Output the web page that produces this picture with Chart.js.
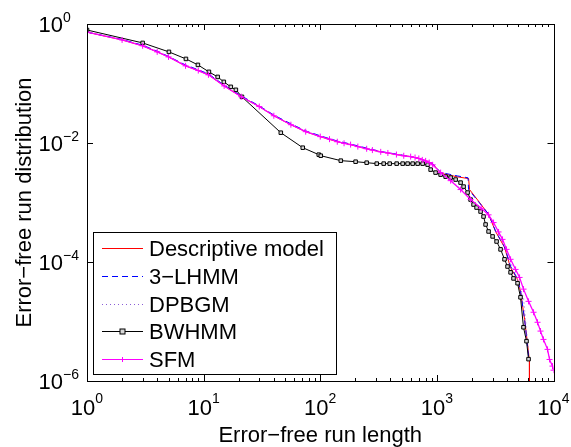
<!DOCTYPE html>
<html lang="en">
<head>
<meta charset="UTF-8">
<title>Error-free run distribution</title>
<script src="https://cdn.jsdelivr.net/npm/chart.js"></script>
<style>
  body { margin: 0; background: #fff; }
</style>
</head>
<body>
<canvas id="runChart" width="571" height="447"></canvas>
<script>
// series (run length -> distribution)
const seriesNames = ['Descriptive model', '3\u2212LHMM', 'DPBGM', 'BWHMM', 'SFM'];

const descX = [1, 2, 3, 4, 5, 7, 9, 11, 15, 21, 30, 40, 56, 75, 100, 140, 182, 250, 330, 450, 596, 700, 801, 920, 1077, 1500, 1871, 1906, 2323, 2775, 3187, 3803, 4285, 4920, 5214, 5650, 5990, 6220, 6220];
const descY = [0.73, 0.54, 0.43, 0.34, 0.28, 0.198, 0.165, 0.14, 0.091, 0.060, 0.041, 0.0287, 0.0203, 0.0155, 0.0128, 0.0105, 0.0094, 0.0080, 0.0071, 0.0064, 0.0059, 0.0055, 0.0050, 0.0045, 0.0031, 0.0027, 0.00252, 0.00165, 0.0010, 0.00063, 0.000326, 0.000176, 0.00008, 0.000051, 0.000032, 0.0000109, 0.0000042, 0.00000216, 0.0000001];

const lhmmX = [1, 2, 3, 4, 5, 7, 9, 11, 15, 21, 30, 40, 56, 75, 100, 140, 182, 250, 330, 450, 596, 700, 801, 920, 1077, 1500, 1850, 1870, 2323, 2775, 3187, 3803, 4285, 4920, 5214, 5650, 6110];
const lhmmY = [0.73, 0.55, 0.44, 0.35, 0.285, 0.205, 0.17, 0.145, 0.094, 0.062, 0.042, 0.0295, 0.021, 0.016, 0.0132, 0.0108, 0.0096, 0.0082, 0.0072, 0.0065, 0.0059, 0.0055, 0.0050, 0.0045, 0.0032, 0.0028, 0.0026, 0.00165, 0.00098, 0.00064, 0.00033, 0.00018, 0.000085, 0.000052, 0.000033, 0.000011, 0.0000026];

const dpbgmX = [1, 2, 3, 5, 7, 11, 21, 40, 56, 100, 182, 330, 596, 801, 920, 1077, 1312, 1597, 1945, 2775, 3381, 3955, 4730, 5534, 6110];
const dpbgmY = [0.73, 0.54, 0.43, 0.28, 0.198, 0.14, 0.060, 0.0287, 0.0203, 0.0128, 0.0094, 0.0071, 0.0059, 0.0050, 0.0044, 0.0032, 0.0024, 0.0017, 0.0011, 0.00062, 0.00031, 0.00015, 0.00006, 0.000025, 0.000003];

const bwX = [1, 3, 5.04, 7.05, 8.93, 11.1, 13.2, 14.9, 17.1, 18.9, 21.3, 45.9, 70.8, 97.1, 101, 150, 201, 250, 305, 350, 394, 452, 509, 561, 620, 684, 755, 833, 884, 975, 1077, 1189, 1312, 1448, 1597, 1695, 1834, 1945, 2063, 2190, 2370, 2513, 2616, 2775, 3004, 3251, 3516, 3803, 4034, 4285, 4540, 4920, 5214, 5530, 5870, 6110];
const bwY = [0.793, 0.481, 0.340, 0.259, 0.2055, 0.157, 0.129, 0.1066, 0.0879, 0.0783, 0.0597, 0.0149, 0.00834, 0.00637, 0.00612, 0.00505, 0.00485, 0.00467, 0.0045, 0.0045, 0.0045, 0.0045, 0.0045, 0.0045, 0.0045, 0.0045, 0.0045, 0.00433, 0.00357, 0.00318, 0.00294, 0.00272, 0.00262, 0.00243, 0.00216, 0.00185, 0.00147, 0.00112, 0.000924, 0.000823, 0.000705, 0.000581, 0.000427, 0.000326, 0.000269, 0.000221, 0.000163, 0.000111, 0.000084, 0.000067, 0.000053, 0.000044, 0.0000255, 0.000008, 0.00000467, 0.00000233];

const sfmX = [1, 2, 3, 4, 5, 7, 9, 11, 15, 21, 30, 40, 56, 75, 100, 120, 140, 160, 182, 210, 250, 280, 330, 380, 450, 520, 596, 650, 700, 750, 801, 860, 920, 1077, 1312, 1597, 1945, 2400, 2775, 3063, 3381, 3656, 3955, 4285, 4730, 5117, 5534, 6110, 6745, 7295, 7740, 8205, 8890, 9250, 9800, 10000];
const sfmY = [0.73, 0.54, 0.43, 0.34, 0.28, 0.198, 0.165, 0.14, 0.091, 0.060, 0.041, 0.0287, 0.0203, 0.0155, 0.0128, 0.0116, 0.0105, 0.0099, 0.0094, 0.0087, 0.0080, 0.0076, 0.0071, 0.0068, 0.0064, 0.0061, 0.0059, 0.0057, 0.0055, 0.0052, 0.0050, 0.0047, 0.0043, 0.00318, 0.00233, 0.00165, 0.00112, 0.0008, 0.00062, 0.00046, 0.00032, 0.00024, 0.000163, 0.000111, 0.000075, 0.000055, 0.000035, 0.0000218, 0.0000143, 0.0000097, 0.0000069, 0.000005, 0.0000034, 0.0000023, 0.00000178, 0.00000152];

// axis ticks
const xMajor = [1, 10, 100, 1000, 10000];
const xExp = ['0', '1', '2', '3', '4'];
const yMajor = [1, 1e-2, 1e-4, 1e-6];
const yExp = ['0', '\u22122', '\u22124', '\u22126'];

const FONT = '"Liberation Sans", Arial, Helvetica, sans-serif';

function pts(xs, ys) {
  return xs.map((x, i) => ({ x: x, y: ys[i] }));
}

// MATLAB-like box, inward ticks, 10^n labels and the legend
const matlabAxes = {
  id: 'matlabAxes',
  afterDatasetsDraw(chart) {
    const ctx = chart.ctx;
    const a = chart.chartArea;
    const xs = chart.scales.x, ys = chart.scales.y;
    ctx.save();
    ctx.strokeStyle = '#000';
    ctx.lineWidth = 1;
    ctx.strokeRect(Math.round(a.left) + 0.5, Math.round(a.top) + 0.5, Math.round(a.right - a.left), Math.round(a.bottom - a.top));

    // x ticks (majors + minors), bottom and top
    ctx.beginPath();
    for (let d = 0; d < 4; d++) {
      for (let m = 1; m <= 10; m++) {
        const v = m * Math.pow(10, d);
        if (m === 10 && d < 3) continue;
        const px = Math.round(xs.getPixelForValue(v)) + 0.5;
        const len = (m === 1 || m === 10) ? 6 : 3;
        ctx.moveTo(px, a.bottom); ctx.lineTo(px, a.bottom - len);
        ctx.moveTo(px, a.top); ctx.lineTo(px, a.top + len);
      }
    }
    yMajor.forEach(v => {
      const py = Math.round(ys.getPixelForValue(v)) + 0.5;
      ctx.moveTo(a.left, py); ctx.lineTo(a.left + 6, py);
      ctx.moveTo(a.right, py); ctx.lineTo(a.right - 6, py);
    });
    ctx.stroke();

    // tick labels
    ctx.fillStyle = '#000';
    ctx.textBaseline = 'alphabetic';
    const baseFont = '22px ' + FONT, expFont = '14px ' + FONT;
    xMajor.forEach((v, i) => {
      const px = xs.getPixelForValue(v);
      ctx.font = baseFont; const wb = ctx.measureText('10').width;
      ctx.font = expFont; const we = ctx.measureText(xExp[i]).width;
      const x0 = px - (wb + we) / 2;
      ctx.font = baseFont; ctx.textAlign = 'left';
      ctx.fillText('10', x0, a.bottom + 34);
      ctx.font = expFont;
      ctx.fillText(xExp[i], x0 + wb, a.bottom + 22);
    });
    yMajor.forEach((v, i) => {
      const py = ys.getPixelForValue(v);
      ctx.font = baseFont; ctx.textAlign = 'right';
      ctx.fillText('10', 63, py + 8);
      ctx.font = expFont; ctx.textAlign = 'left';
      ctx.fillText(yExp[i], 63, py - 2);
    });

    // axis titles
    ctx.font = '22px ' + FONT;
    ctx.textAlign = 'center';
    ctx.textBaseline = 'middle';
    ctx.fillText('Error\u2212free run length', (a.left + a.right) / 2, 436);
    ctx.save();
    ctx.translate(25, (a.top + a.bottom) / 2);
    ctx.rotate(-Math.PI / 2);
    ctx.fillText('Error\u2212free run distribution', 0, 0);
    ctx.restore();

    // legend
    const lx = 93.5, ly = 232.5, lw = 243, lh = 142;
    ctx.fillStyle = '#fff';
    ctx.fillRect(lx, ly, lw, lh);
    ctx.strokeStyle = '#000';
    ctx.strokeRect(lx, ly, lw, lh);
    chart.data.datasets.forEach((ds, i) => {
      const cy = Math.round(248 + i * 27.75) + 0.5;
      ctx.strokeStyle = ds.borderColor;
      ctx.lineWidth = 1;
      ctx.setLineDash(ds.borderDash || []);
      ctx.beginPath(); ctx.moveTo(102, cy); ctx.lineTo(143, cy); ctx.stroke();
      ctx.setLineDash([]);
      if (ds.pointStyle === 'rect') {
        ctx.fillStyle = ds.pointBackgroundColor;
        ctx.fillRect(120, cy - 2.5, 5, 5);
        ctx.strokeRect(120, cy - 2.5, 5, 5);
      } else if (ds.pointStyle === 'cross') {
        ctx.beginPath();
        ctx.moveTo(122.5, cy - 2.5); ctx.lineTo(122.5, cy + 2.5);
        ctx.stroke();
      }
      ctx.fillStyle = '#000';
      ctx.font = '22px ' + FONT;
      ctx.textAlign = 'left';
      ctx.textBaseline = 'middle';
      ctx.fillText(ds.label, 149, cy + 1);
    });
    ctx.restore();
  }
};

new Chart(document.getElementById('runChart').getContext('2d'), {
  type: 'line',
  data: {
    datasets: [
      { label: seriesNames[0], data: pts(descX, descY), borderColor: '#ff0000', borderWidth: 1, pointRadius: 0, order: 4 },
      { label: seriesNames[1], data: pts(lhmmX, lhmmY), borderColor: '#0000ff', borderWidth: 1, borderDash: [6, 4], pointRadius: 0, order: 3 },
      { label: seriesNames[2], data: pts(dpbgmX, dpbgmY), borderColor: '#8a5cd6', borderWidth: 1, borderDash: [1, 3], pointRadius: 0, order: 2 },
      { label: seriesNames[3], data: pts(bwX, bwY), borderColor: '#000000', borderWidth: 1, pointStyle: 'rect', pointRadius: 2.5, pointBorderWidth: 1, pointBorderColor: '#000', pointBackgroundColor: '#d8d8d8', order: 1 },
      { label: seriesNames[4], data: pts(sfmX, sfmY), borderColor: '#ff00ff', borderWidth: 1.3, pointStyle: 'cross', pointRadius: 3, pointBorderWidth: 1, pointBorderColor: '#ff00ff', order: 0 }
    ]
  },
  options: {
    responsive: false,
    animation: false,
    parsing: true,
    layout: { padding: { left: 87, right: 17.5, top: 24, bottom: 66 } },
    scales: {
      x: { type: 'logarithmic', min: 1, max: 10000, display: false },
      y: { type: 'logarithmic', min: 1e-6, max: 1, display: false }
    },
    elements: { line: { tension: 0 } },
    plugins: { legend: { display: false }, tooltip: { enabled: false } }
  },
  plugins: [matlabAxes]
});
</script>
</body>
</html>
